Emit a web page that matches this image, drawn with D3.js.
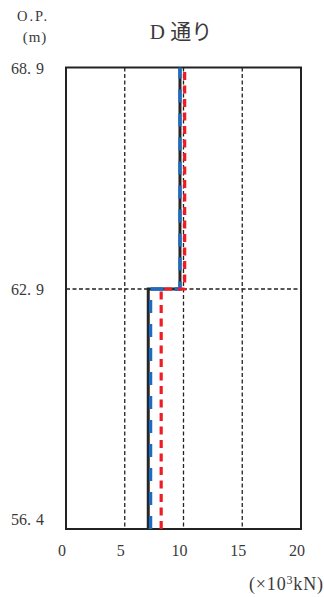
<!DOCTYPE html>
<html><head><meta charset="utf-8">
<script src="https://cdn.jsdelivr.net/npm/d3@7"></script>
<style>
html,body{margin:0;padding:0;background:#fff;}
svg{display:block;}
</style></head>
<body>
<svg id="c" width="324" height="597"></svg>
<script>
// ---- data ----
const title = "D 通り";
const elevations = [56.4, 62.9, 68.9];          // O.P. (m): bottom, step, top
const elevLabels = ["56.4", "62.9", "68.9"];
const xTicks = [0, 5, 10, 15, 20];
const xGrid = [5, 10, 15];
// [lower segment value, upper segment value] in ×10^3 kN
const seriesNames = ["black", "blue", "red"];
const blackValues = [7.0, 9.7];
const blueValues = [7.2, 9.7];
const redValues = [8.1, 10.1];

(function () {
const FONT = "'Liberation Serif', 'Times New Roman', 'DejaVu Serif', 'Noto Sans CJK JP', serif";
const svg = d3.select("#c").attr("font-family", FONT);
const pL = 66, pR = 301, pT = 67.5, pB = 529;
const x = d3.scaleLinear().domain([0, 20]).range([pL, pR]);
const y = d3.scaleLinear().domain([56.4, 68.9]).range([pB, pT]);

// grid lines
const grid = svg.append("g").attr("stroke", "#222").attr("stroke-width", 1.3).attr("stroke-dasharray", "4,2.5");
grid.selectAll("line.v").data(xGrid).join("line")
  .attr("x1", d => x(d)).attr("x2", d => x(d)).attr("y1", pT).attr("y2", pB);
grid.append("line").attr("x1", pL).attr("x2", pR)
  .attr("y1", y(elevations[1])).attr("y2", y(elevations[1]));

// frame
svg.append("rect").attr("x", pL).attr("y", pT).attr("width", pR - pL).attr("height", pB - pT)
  .attr("fill", "none").attr("stroke", "#222").attr("stroke-width", 2);

// step lines
const line = d3.line().x(d => x(d[0])).y(d => y(d[1]));
function stepPts(v) {
  return [[v[0], elevations[0]], [v[0], elevations[1]], [v[1], elevations[1]], [v[1], elevations[2]]];
}
svg.append("path").attr("d", line(stepPts(blackValues))).attr("fill", "none")
  .attr("stroke", "#262626").attr("stroke-width", 3);
svg.append("path").attr("d", line(stepPts(blueValues))).attr("fill", "none")
  .attr("stroke", "#1c6cc0").attr("stroke-width", 3.3).attr("stroke-dasharray", "13,11");
svg.append("path").attr("d", line(stepPts(redValues))).attr("fill", "none")
  .attr("stroke", "#ee1c25").attr("stroke-width", 3.2).attr("stroke-dasharray", "8,5.5");

const txt = "#3a3a3a";
// y labels
elevLabels.forEach((lab, i) => {
  const parts = lab.split(".");
  const t = svg.append("text").attr("x", 11).attr("y", y(elevations[i]) + (i === 0 ? -4 : 6))
    .attr("font-size", 16).attr("fill", txt);
  t.append("tspan").text(parts[0] + ".");
  t.append("tspan").attr("dx", 5).text(parts[1]);
});

// x labels
svg.selectAll("text.xt").data(xTicks).join("text")
  .attr("x", d => x(d) - 4).attr("y", 556).attr("text-anchor", "middle")
  .attr("font-size", 16).attr("fill", txt).text(d => d);

// texts
svg.append("text").attr("x", 181).attr("y", 39).attr("text-anchor", "middle").attr("font-size", 21).attr("fill", txt).text(title);
svg.append("text").attr("x", 17).attr("y", 21).attr("font-size", 14.5).attr("letter-spacing", 2).attr("fill", txt).text("O.P.");
svg.append("text").attr("x", 35).attr("y", 42).attr("text-anchor", "middle").attr("font-size", 15).attr("letter-spacing", 1).attr("fill", txt).text("(m)");
svg.append("text").attr("x", 249).attr("y", 590).attr("font-size", 18).attr("fill", txt)
  .attr("textLength", 74).attr("lengthAdjust", "spacing")
  .html("(×10<tspan dy='-6' font-size='12'>3</tspan><tspan dy='6'>kN)</tspan>");
})();
</script>
</body></html>
